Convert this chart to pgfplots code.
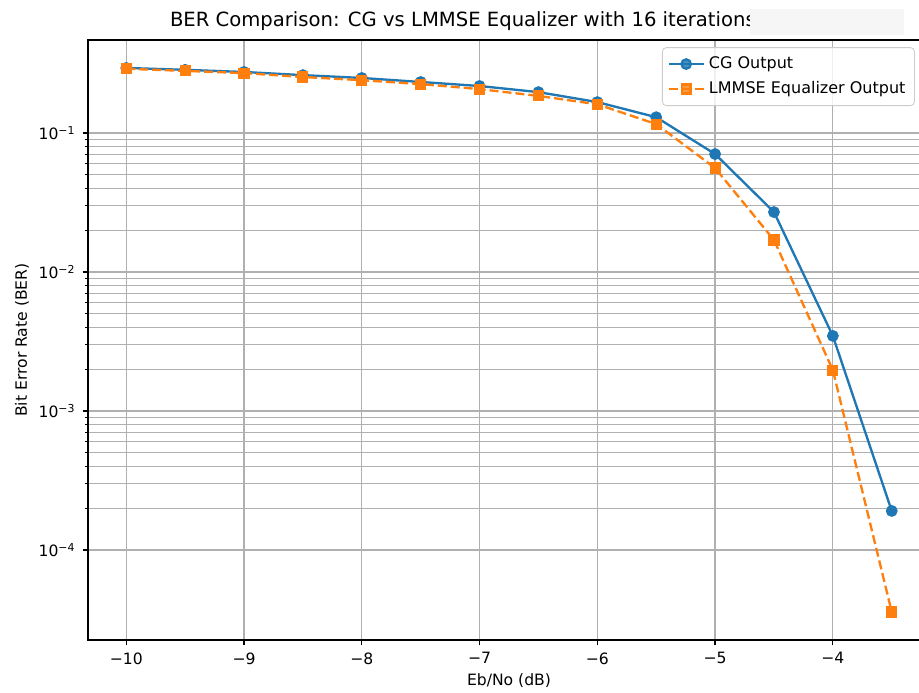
\documentclass[border=0pt]{standalone}
\usepackage{fontspec}
\setmainfont{DejaVu Sans}
\usepackage{pgfplots}
\pgfplotsset{compat=1.18}
\definecolor{tabblue}{HTML}{1F77B4}
\definecolor{taborange}{HTML}{FF7F0E}
\definecolor{gridgray}{HTML}{B0B0B0}
\begin{document}
\begin{tikzpicture}
\begin{axis}[
  scale only axis,
  width=421pt, height=300pt,
  ymode=log,
  clip mode=individual,
  xmin=-10.325, xmax=-3.175,
  ymin=2.25e-5, ymax=0.467,
  xtick={-10,-9,-8,-7,-6,-5,-4},
  xticklabels={−10,−9,−8,−7,−6,−5,−4},
  ytick={1e-4,1e-3,1e-2,1e-1},
  yticklabels={10\textsuperscript{−4},10\textsuperscript{−3},10\textsuperscript{−2},10\textsuperscript{−1}},
  grid=both,
  major grid style={gridgray, line width=0.6pt},
  minor grid style={gridgray, line width=0.6pt},
  axis line style={black, line width=0.6pt},
  tick style={black, line width=0.6pt},
  tick align=outside,
  major tick length=2.7pt,
  minor tick length=1.6pt,
  xtick pos=bottom, ytick pos=left,
  ticklabel style={font=\fontsize{7.8}{9}\selectfont},
  label style={font=\fontsize{7.8}{9}\selectfont},
  xlabel={Eb/No (dB)},
  ylabel={Bit Error Rate (BER)},
  xlabel style={yshift=2pt},
  ylabel style={yshift=-2pt},
  title={BER Comparison: CG vs LMMSE Equalizer with 16 iterations},
  title style={font=\fontsize{9.8}{11}\selectfont, at={(0.089,1)}, anchor=base west, yshift=0.8pt},
  legend style={font=\fontsize{8}{9.5}\selectfont, at={(0.982,0.988)}, anchor=north east,
    draw=gray!40, rounded corners=2pt, fill=white, fill opacity=0.8, text opacity=1,
    row sep=1pt, inner sep=2.5pt},
  legend cell align=left,
  legend image code/.code={
    \draw[mark repeat=2,mark phase=2] plot coordinates {(0cm,0cm) (0.31cm,0cm) (0.62cm,0cm)};
  },
]
\addplot[tabblue, line width=1.17pt, mark=*, mark size=2.35pt, mark options={solid, fill=tabblue, draw=tabblue}]
coordinates {
(-10,0.294) (-9.5,0.285) (-9,0.275) (-8.5,0.261) (-8,0.249) (-7.5,0.233) (-7,0.218)
(-6.5,0.197) (-6,0.167) (-5.5,0.130) (-5,0.0706) (-4.5,0.027) (-4,0.00347) (-3.5,1.91e-4)
};
\addlegendentry{CG Output}
\addplot[taborange, line width=1.17pt, dash pattern=on 4.5pt off 2pt, mark=square*, mark size=2.2pt, mark options={solid, fill=taborange, draw=taborange}]
coordinates {
(-10,0.290) (-9.5,0.280) (-9,0.270) (-8.5,0.253) (-8,0.240) (-7.5,0.225) (-7,0.207)
(-6.5,0.185) (-6,0.161) (-5.5,0.116) (-5,0.056) (-4.5,0.017) (-4,0.00197) (-3.5,3.58e-5)
};
\addlegendentry{LMMSE Equalizer Output}
\end{axis}
\fill[gray!7] ([shift={(331pt,2.5pt)}]current axis.north west) rectangle ([shift={(408pt,15.5pt)}]current axis.north west);
\pgfresetboundingbox
\path[use as bounding box] ([shift={(-44pt,-26pt)}]current axis.south west) rectangle ([shift={(415.5pt,320pt)}]current axis.south west);
\end{tikzpicture}
\end{document}
